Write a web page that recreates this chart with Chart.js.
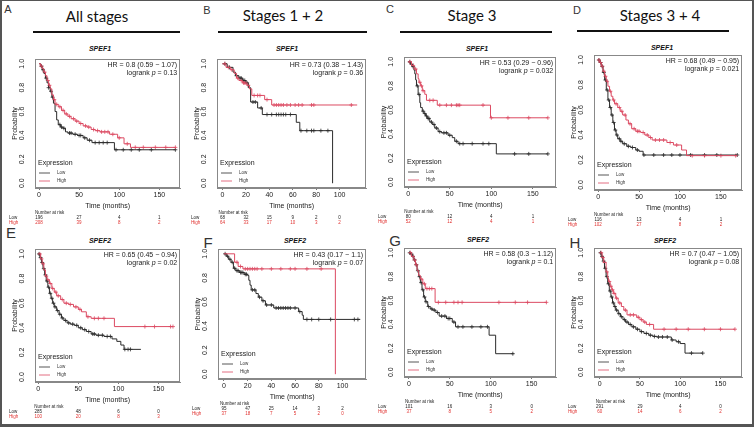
<!DOCTYPE html>
<html>
<head>
<meta charset="utf-8">
<script src="https://cdn.jsdelivr.net/npm/chart.js@4.4.1/dist/chart.umd.min.js"></script>
<style>
html, body { margin: 0; padding: 0; background: #fff; }
#page { position: relative; width: 754px; height: 427px; overflow: hidden; }
#frame { position: absolute; left: 0; top: 0; width: 754px; height: 427px; box-sizing: border-box;
  border: 1px solid #555; border-left-width: 2px; border-right-width: 2px; border-bottom-width: 3px; pointer-events: none; }
.head { position: absolute; font-family: Lato, sans-serif; font-size: 15px; color: #111; transform: translate(-50%, -50%); white-space: nowrap; }
.letter { position: absolute; font-family: "Liberation Sans", Arial, sans-serif; color: #333; transform: translate(-50%, -50%); line-height: 1; }
.rule { position: absolute; height: 1.5px; background: #111; }
.gene { position: absolute; font: italic bold 7px "Liberation Sans", Arial, sans-serif; color: #111; transform: translate(-50%, -50%); }
canvas { position: absolute; }
</style>
</head>
<body>
<div id="page">
  <div class="head" style="left:97px;top:16px">All stages</div>
  <div class="head" style="left:283px;top:15px">Stages 1 + 2</div>
  <div class="head" style="left:472px;top:15px">Stage 3</div>
  <div class="head" style="left:660px;top:15px">Stages 3 + 4</div>
  <div class="rule" style="left:33px;top:31px;width:147px"></div>
  <div class="rule" style="left:218px;top:31px;width:149px"></div>
  <div class="rule" style="left:400px;top:31px;width:152px"></div>
  <div class="rule" style="left:577px;top:30px;width:152px"></div>
  <div class="letter" style="left:8px;top:9px;font-size:11px">A</div>
  <div class="letter" style="left:207px;top:10px;font-size:11px">B</div>
  <div class="letter" style="left:390px;top:9px;font-size:11px">C</div>
  <div class="letter" style="left:577px;top:10px;font-size:11px">D</div>
  <div class="letter" style="left:11px;top:232px;font-size:15px">E</div>
  <div class="letter" style="left:208px;top:242px;font-size:15px">F</div>
  <div class="letter" style="left:395px;top:240px;font-size:15px">G</div>
  <div class="letter" style="left:575px;top:242px;font-size:15px">H</div>
  <div class="gene" style="left:100px;top:48px">SPEF1</div>
  <div class="gene" style="left:287px;top:48px">SPEF1</div>
  <div class="gene" style="left:477px;top:48px">SPEF1</div>
  <div class="gene" style="left:662px;top:47px">SPEF1</div>
  <div class="gene" style="left:100px;top:240px">SPEF2</div>
  <div class="gene" style="left:295px;top:240px">SPEF2</div>
  <div class="gene" style="left:478px;top:239px">SPEF2</div>
  <div class="gene" style="left:665px;top:240px">SPEF2</div>
</div>
<script>
// tick labels
const xTicks150 = [0, 50, 100, 150];
const xTicks100 = [0, 20, 40, 60, 80, 100];
const yTicks = [0, 0.2, 0.4, 0.6, 0.8, 1.0];

// A - all stages, SPEF1  (steps: [months, survival])
const aLow = [[0,1],[2,0.98],[4,0.95],[6,0.92],[8,0.88],[10,0.84],[12,0.8],[14,0.77],[16,0.72],[18,0.67],[20,0.6],[22,0.53],[24,0.49],[27,0.47],[30,0.46],[33,0.43],[36,0.42],[42,0.41],[48,0.4],[55,0.38],[60,0.36],[66,0.34],[94,0.28],[170,0.28]];
const aLowCens = [3,5,9,12,15,17,26,28,31,38,40,45,50,52,57,63,70,75,80,85,96,105,115,125,140,170];
const aHigh = [[0,1],[2,0.98],[4,0.96],[6,0.93],[8,0.9],[10,0.86],[12,0.82],[14,0.79],[16,0.74],[18,0.7],[20,0.66],[24,0.64],[28,0.61],[32,0.58],[36,0.56],[40,0.54],[45,0.52],[50,0.5],[55,0.48],[60,0.47],[65,0.45],[70,0.44],[76,0.43],[88,0.41],[98,0.38],[106,0.33],[114,0.3],[170,0.3]];
const aHighCens = [3,7,11,13,19,22,26,30,34,38,43,47,52,58,62,68,73,78,82,86,92,100,110,120,130,145,158,170];
const aRiskLow = [196, 27, 4, 1];
const aRiskHigh = [208, 39, 8, 2];

// B - stages 1 + 2, SPEF1
const bLow = [[0,1],[4,0.97],[9,0.93],[11,0.9],[14,0.88],[17,0.86],[20,0.84],[22,0.8],[24,0.68],[30,0.63],[34,0.575],[63,0.51],[66,0.44],[94,0]];
const bLowCens = [2,6,12,15,16,18,19,21,26,28,33,38,42,46,48,50,52,54,58,67,72,76,78,84,90];
const bHigh = [[0,1],[3,0.97],[7,0.95],[10,0.92],[12,0.88],[14,0.86],[17,0.84],[21,0.82],[23,0.79],[25,0.735],[36,0.7],[42,0.655],[115,0.655]];
const bHighCens = [2,5,8,13,16,18,19,20,22,27,30,32,38,44,46,48,50,52,55,58,62,65,68,76,78,110];
const bRiskLow = [68, 32, 15, 9, 2, 0];
const bRiskHigh = [64, 33, 17, 10, 3, 2];

// C - stage 3, SPEF1
const cLow = [[0,1],[3,0.98],[5,0.96],[7,0.93],[8,0.9],[9,0.85],[10,0.8],[12,0.73],[14,0.66],[15,0.62],[17,0.59],[19,0.57],[21,0.55],[23,0.53],[26,0.5],[29,0.48],[32,0.45],[36,0.42],[40,0.41],[48,0.39],[53,0.37],[56,0.34],[60,0.32],[106,0.235],[168,0.235]];
const cLowCens = [2,4,6,11,13,18,20,22,24,25,28,31,34,38,43,46,50,58,62,66,77,90,97,128,145,168];
const cHigh = [[0,1],[4,0.97],[7,0.94],[10,0.9],[12,0.86],[13,0.83],[15,0.8],[17,0.76],[20,0.73],[22,0.68],[35,0.64],[99,0.535],[168,0.535]];
const cHighCens = [2,6,9,14,16,18,26,30,38,46,52,58,60,62,90,100,120,145,168];
const cRiskLow = [80, 12, 4, 1];
const cRiskHigh = [52, 12, 4, 1];

// D - stages 3 + 4, SPEF1
const dLow = [[0,1],[2,0.98],[4,0.95],[6,0.9],[8,0.84],[10,0.76],[12,0.68],[14,0.62],[16,0.56],[18,0.5],[20,0.44],[22,0.4],[24,0.37],[27,0.35],[30,0.33],[35,0.31],[40,0.3],[46,0.28],[50,0.27],[55,0.24],[170,0.24]];
const dLowCens = [1,3,5,7,9,11,13,15,17,19,21,23,26,28,32,37,42,48,56,68,80,90,100,113,130,145,170];
const dHigh = [[0,1],[2,0.98],[4,0.95],[6,0.91],[8,0.87],[10,0.83],[12,0.79],[14,0.75],[16,0.71],[18,0.68],[20,0.65],[24,0.62],[27,0.59],[30,0.56],[34,0.52],[37,0.49],[41,0.45],[46,0.43],[52,0.42],[57,0.4],[62,0.38],[66,0.36],[84,0.34],[92,0.32],[102,0.28],[108,0.235],[170,0.235]];
const dHighCens = [1,3,5,7,9,11,15,19,22,26,29,33,39,44,48,50,55,60,64,70,75,80,88,96,115,130,150,168];
const dRiskLow = [116, 13, 4, 1];
const dRiskHigh = [102, 27, 8, 2];

// E - all stages, SPEF2
const eLow = [[0,1],[2,0.97],[4,0.93],[6,0.88],[8,0.83],[10,0.78],[12,0.73],[14,0.68],[16,0.64],[18,0.6],[20,0.57],[23,0.54],[26,0.51],[29,0.48],[32,0.46],[36,0.44],[40,0.43],[45,0.42],[50,0.4],[55,0.385],[60,0.37],[66,0.35],[72,0.34],[82,0.33],[92,0.31],[98,0.29],[103,0.26],[107,0.225],[128,0.225]];
const eLowCens = [1,3,5,7,9,11,13,15,17,19,21,24,27,30,34,38,43,48,53,58,63,68,70,75,80,86,90,108,112,115];
const eHigh = [[0,1],[3,0.96],[5,0.92],[7,0.87],[9,0.82],[11,0.79],[14,0.76],[17,0.72],[20,0.69],[23,0.66],[28,0.63],[32,0.6],[38,0.59],[44,0.57],[50,0.55],[54,0.53],[60,0.49],[66,0.477],[95,0.41],[168,0.41]];
const eHighCens = [2,4,6,10,12,15,18,22,25,30,35,40,47,52,62,70,75,82,133,145,165,168];
const eRiskLow = [285, 48, 6, 0];
const eRiskHigh = [100, 20, 8, 3];

// F - stages 1 + 2, SPEF2
const fLow = [[0,1],[2,0.98],[4,0.955],[6,0.93],[8,0.88],[10,0.86],[13,0.845],[17,0.83],[20,0.82],[21,0.78],[22,0.74],[23,0.7],[27,0.67],[29,0.64],[32,0.61],[35,0.575],[42,0.55],[63,0.52],[66,0.49],[67,0.455],[115,0.455]];
const fLowCens = [1,3,5,7,9,11,12,14,15,16,18,19,24,26,30,33,36,40,44,46,48,50,52,54,56,60,64,70,74,80,90,110,113];
const fHigh = [[0,1],[9,0.93],[12,0.895],[16,0.875],[94,0]];
const fHighCens = [11,14,18,20,22,24,26,28,32,40,48,56,60,70,82];
const fRiskLow = [95, 47, 25, 14, 3, 2];
const fRiskHigh = [37, 18, 7, 5, 2, 0];

// G - stage 3, SPEF2
const gLow = [[0,1],[2,0.99],[4,0.97],[6,0.94],[8,0.9],[10,0.85],[12,0.8],[14,0.75],[16,0.69],[18,0.63],[20,0.59],[23,0.55],[26,0.53],[29,0.52],[33,0.5],[37,0.47],[46,0.45],[53,0.42],[57,0.38],[98,0.31],[106,0.155],[128,0.155]];
const gLowCens = [1,3,5,7,9,11,13,15,17,19,21,24,28,31,35,40,44,48,50,55,60,66,77,88,96,127];
const gHigh = [[0,1],[3,0.97],[6,0.94],[8,0.9],[10,0.85],[12,0.81],[14,0.78],[17,0.74],[20,0.7],[32,0.585],[168,0.585]];
const gHighCens = [2,5,7,9,15,19,22,25,28,36,45,55,60,65,110,130,145,168];
const gRiskLow = [101, 16, 3, 0];
const gRiskHigh = [37, 8, 5, 2];

// H - stages 3 + 4, SPEF2
const hLow = [[0,1],[2,0.97],[4,0.93],[6,0.87],[8,0.8],[10,0.74],[12,0.68],[14,0.63],[16,0.58],[18,0.55],[20,0.52],[23,0.49],[26,0.465],[29,0.44],[32,0.42],[36,0.4],[40,0.38],[45,0.36],[50,0.34],[55,0.325],[61,0.31],[66,0.3],[71,0.295],[89,0.27],[95,0.255],[100,0.24],[106,0.16],[128,0.16]];
const hLowCens = [1,3,5,7,9,11,13,15,17,19,21,24,27,31,34,38,42,47,52,58,63,68,73,78,84,90,98,114,128];
const hHigh = [[0,1],[3,0.96],[5,0.92],[8,0.84],[10,0.79],[11,0.76],[13,0.72],[15,0.69],[17,0.66],[20,0.62],[23,0.58],[27,0.55],[30,0.52],[34,0.48],[46,0.46],[50,0.44],[54,0.42],[58,0.4],[67,0.36],[168,0.36]];
const hHighCens = [2,4,6,9,12,14,16,18,21,25,32,38,42,48,52,56,62,80,95,110,130,150,168];
const hRiskLow = [291, 29, 4, 0];
const hRiskHigh = [60, 14, 6, 2];

// hazard ratio / logrank text
const hrText = ['0.8 (0.59 \u2212 1.07)', '0.73 (0.38 \u2212 1.43)', '0.53 (0.29 \u2212 0.96)', '0.68 (0.49 \u2212 0.95)',
                '0.65 (0.45 \u2212 0.94)', '0.43 (0.17 \u2212 1.1)', '0.58 (0.3 \u2212 1.12)', '0.7 (0.47 \u2212 1.05)'];
const pText = ['0.13', '0.36', '0.032', '0.021', '0.02', '0.07', '0.1', '0.08'];

const FONT = '"Liberation Sans", Arial, sans-serif';
const BLACK = '#2b2b2b';
const RED = '#dc4a62';

// box = plot region [left, top, right, bottom] in page pixels
const panels = [
  { box: [35, 59, 182, 188],  xr: [-5, 176],     ticks: xTicks150, low: aLow, lowC: aLowCens, high: aHigh, highC: aHighCens, rl: aRiskLow, rh: aRiskHigh },
  { box: [217, 59, 368, 188], xr: [-4.7, 122.7], ticks: xTicks100, low: bLow, lowC: bLowCens, high: bHigh, highC: bHighCens, rl: bRiskLow, rh: bRiskHigh },
  { box: [404, 57, 558, 187], xr: [-5, 178],     ticks: xTicks150, low: cLow, lowC: cLowCens, high: cHigh, highC: cHighCens, rl: cRiskLow, rh: cRiskHigh },
  { box: [594, 55, 744, 190], xr: [-5, 176],     ticks: xTicks150, low: dLow, lowC: dLowCens, high: dHigh, highC: dHighCens, rl: dRiskLow, rh: dRiskHigh },
  { box: [35, 249, 182, 382], xr: [-4, 177],     ticks: xTicks150, low: eLow, lowC: eLowCens, high: eHigh, highC: eHighCens, rl: eRiskLow, rh: eRiskHigh },
  { box: [218, 249, 368, 379], xr: [-5, 120],    ticks: xTicks100, low: fLow, lowC: fLowCens, high: fHigh, highC: fHighCens, rl: fRiskLow, rh: fRiskHigh },
  { box: [404, 248, 558, 377], xr: [-6, 180],    ticks: xTicks150, low: gLow, lowC: gLowCens, high: gHigh, highC: gHighCens, rl: gRiskLow, rh: gRiskHigh },
  { box: [594, 248, 744, 377], xr: [-7, 177],    ticks: xTicks150, low: hLow, lowC: hLowCens, high: hHigh, highC: hHighCens, rl: hRiskLow, rh: hRiskHigh }
];

function survAt(steps, t) {
  let s = 1;
  for (const [ti, si] of steps) if (ti <= t) s = si;
  return s;
}
const curve = steps => steps.map(([x, y]) => ({ x, y }));
const marks = (steps, cens) => cens.map(t => ({ x: t, y: survAt(steps, t) }));

// box, HR text, inner legend and the number-at-risk table
function kmDecor(p, i) {
  return {
    id: 'kmDecor',
    afterDraw(chart) {
      const ctx = chart.ctx, a = chart.chartArea, xs = chart.scales.x;
      ctx.save();
      ctx.strokeStyle = '#888';
      ctx.lineWidth = 1;
      ctx.strokeRect(Math.round(a.left) + 0.5, Math.round(a.top) + 0.5, Math.round(a.right - a.left) - 1, Math.round(a.bottom - a.top) - 1);

      ctx.fillStyle = '#222';
      ctx.textBaseline = 'middle';
      ctx.textAlign = 'right';
      ctx.font = '7px ' + FONT;
      const rx = a.right - 3;
      ctx.fillText('HR = ' + hrText[i], rx, a.top + 6);
      const tail = ' = ' + pText[i];
      ctx.fillText(tail, rx, a.top + 14);
      let x2 = rx - ctx.measureText(tail).width;
      ctx.font = 'italic 7px ' + FONT;
      ctx.fillText('p', x2, a.top + 14);
      x2 -= ctx.measureText('p').width;
      ctx.font = '7px ' + FONT;
      ctx.fillText('logrank ', x2, a.top + 14);

      ctx.textAlign = 'left';
      ctx.fillText('Expression', a.left + 3, a.bottom - 25);
      [[BLACK, 'Low', 15], [RED, 'High', 7]].forEach(([c, t, dy]) => {
        ctx.strokeStyle = c;
        ctx.lineWidth = 0.8;
        ctx.beginPath();
        ctx.moveTo(a.left + 4, a.bottom - dy);
        ctx.lineTo(a.left + 15, a.bottom - dy);
        ctx.stroke();
        ctx.fillStyle = '#333';
        ctx.font = '4.5px ' + FONT;
        ctx.fillText(t, a.left + 22, a.bottom - dy);
      });

      ctx.font = '4.5px ' + FONT;
      ctx.fillStyle = '#222';
      ctx.textAlign = 'left';
      ctx.fillText('Number at risk', xs.getPixelForValue(0) - 4, a.bottom + 25);
      [[p.rl, 'Low', '#222', 30], [p.rh, 'High', '#e0312f', 35]].forEach(([vals, name, col, dy]) => {
        ctx.fillStyle = col;
        ctx.textAlign = 'left';
        ctx.fillText(name, a.left - 26, a.bottom + dy);
        ctx.textAlign = 'center';
        vals.forEach((v, k) => ctx.fillText(String(v), xs.getPixelForValue(p.ticks[k]), a.bottom + dy));
      });
      ctx.restore();
    }
  };
}

const page = document.getElementById('page');
panels.forEach((p, i) => {
  const [L, T, R, B] = p.box;
  const cv = document.createElement('canvas');
  cv.width = R - L + 28 + 3;
  cv.height = B - T + 5 + 38;
  cv.style.left = (L - 28) + 'px';
  cv.style.top = (T - 5) + 'px';
  page.appendChild(cv);

  new Chart(cv, {
    type: 'scatter',
    data: {
      datasets: [
        { data: curve(p.high), showLine: true, stepped: true, borderColor: RED, borderWidth: 1, pointRadius: 0 },
        { data: curve(p.low), showLine: true, stepped: true, borderColor: BLACK, borderWidth: 1, pointRadius: 0 },
        { data: marks(p.high, p.highC), pointStyle: 'cross', pointRadius: 2, borderColor: RED, borderWidth: 0.8 },
        { data: marks(p.low, p.lowC), pointStyle: 'cross', pointRadius: 2, borderColor: BLACK, borderWidth: 0.8 }
      ]
    },
    options: {
      responsive: false,
      animation: false,
      events: [],
      layout: { padding: { top: 5, right: 3, bottom: 16, left: 0 } },
      plugins: { legend: { display: false }, tooltip: { enabled: false } },
      scales: {
        x: {
          type: 'linear', min: p.xr[0], max: p.xr[1],
          afterBuildTicks: s => { s.ticks = p.ticks.map(v => ({ value: v })); },
          afterFit: s => { s.height = 22; },
          ticks: { font: { size: 7, family: FONT }, color: '#222', padding: 1, autoSkip: false, maxRotation: 0, callback: v => String(v) },
          grid: { display: true, drawOnChartArea: false, drawTicks: true, tickLength: 2, color: '#777' },
          border: { display: true, color: '#888' },
          title: { display: true, text: 'Time (months)', font: { size: 7, family: FONT }, color: '#222', padding: { top: 0, bottom: 0 } }
        },
        y: {
          type: 'linear', min: -0.04, max: 1.04,
          afterBuildTicks: s => { s.ticks = yTicks.map(v => ({ value: v })); },
          afterFit: s => { s.width = 28; },
          ticks: { font: { size: 7, family: FONT }, color: '#222', padding: 0, autoSkip: false, minRotation: 90, maxRotation: 90, crossAlign: 'center', callback: v => Number(v).toFixed(1) },
          grid: { display: false },
          border: { display: true, color: '#888' },
          title: { display: true, text: 'Probability', font: { size: 7, family: FONT }, color: '#222', padding: { top: 4, bottom: 0 } }
        }
      }
    },
    plugins: [kmDecor(p, i)]
  });
});

const frame = document.createElement('div');
frame.id = 'frame';
page.appendChild(frame);
</script>
</body>
</html>
